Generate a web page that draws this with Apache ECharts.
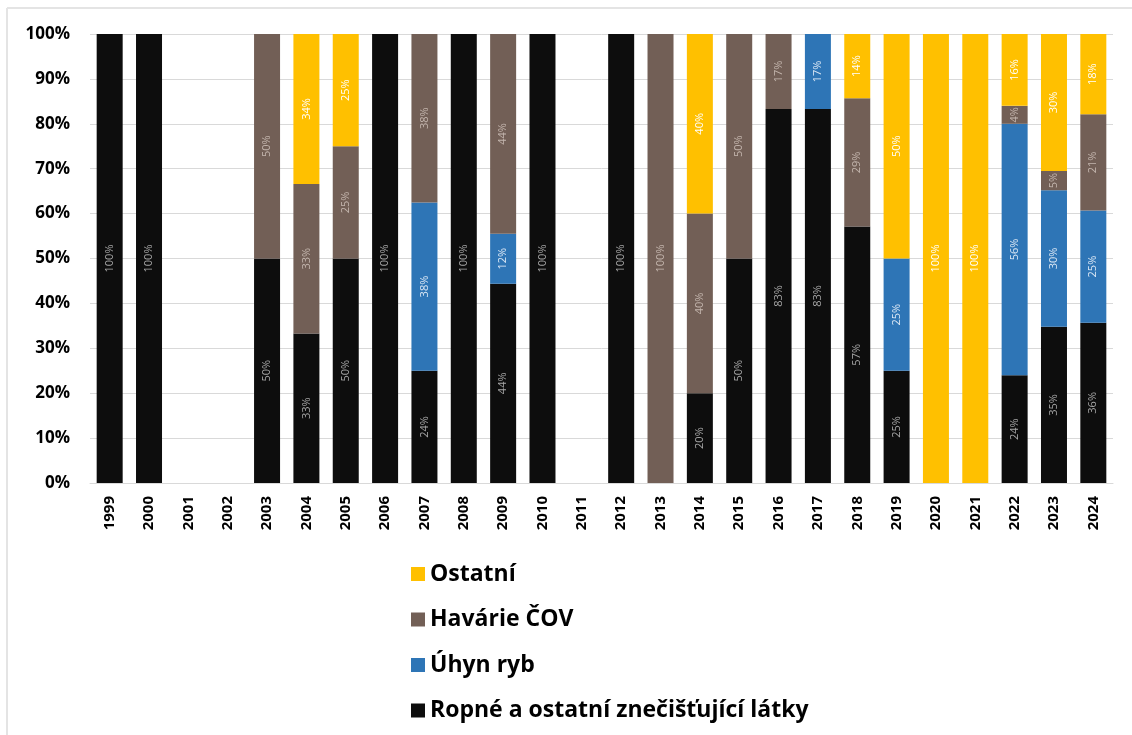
<!DOCTYPE html>
<html>
<head>
<meta charset="utf-8">
<script src="https://cdn.jsdelivr.net/npm/echarts@6/dist/echarts.min.js"></script>
<style>
html,body{margin:0;padding:0;background:#fff;}
#c{width:1132px;height:735px;}
</style>
</head>
<body>
<div id="c"></div>
<script>
const years = ['1999','2000','2001','2002','2003','2004','2005','2006','2007','2008','2009','2010','2011','2012','2013','2014','2015','2016','2017','2018','2019','2020','2021','2022','2023','2024'];
const yTicks = ['0%','10%','20%','30%','40%','50%','60%','70%','80%','90%','100%'];
const n = null;
// segment shares (%)
const ropne   = [100,100,n,n,50,33.3,50,100,25,100,44.4,100,n,100,n,20,50,83.3,83.3,57.1,25,n,n,24,34.8,35.7];
const uhyn    = [n,n,n,n,n,n,n,n,37.5,n,11.1,n,n,n,n,n,n,n,16.7,n,25,n,n,56,30.4,25];
const havarie = [n,n,n,n,50,33.3,25,n,37.5,n,44.5,n,n,n,100,40,50,16.7,n,28.6,n,n,n,4,4.3,21.4];
const ostatni = [n,n,n,n,n,33.4,25,n,n,n,n,n,n,n,n,40,n,n,n,14.3,50,100,100,16,30.5,17.9];
// data labels as printed in the chart
const ropneLbl   = [100,100,n,n,50,33,50,100,24,100,44,100,n,100,n,20,50,83,83,57,25,n,n,24,35,36];
const uhynLbl    = [n,n,n,n,n,n,n,n,38,n,12,n,n,n,n,n,n,n,17,n,25,n,n,56,30,25];
const havarieLbl = [n,n,n,n,50,33,25,n,38,n,44,n,n,n,100,40,50,17,n,29,n,n,n,4,5,21];
const ostatniLbl = [n,n,n,n,n,34,25,n,n,n,n,n,n,n,n,40,n,n,n,14,50,100,100,16,30,18];

const FONT = '"Open Sans", Lato, sans-serif';
function mk(name, data, lbl, color, lblColor){
  return {
    name: name, type: 'bar', stack: 'all', data: data, barWidth: 26,
    itemStyle: {color: color},
    label: {
      show: true, position: 'inside', rotate: 90,
      fontFamily: FONT, fontSize: 11, color: lblColor,
      formatter: p => lbl[p.dataIndex] == null ? '' : lbl[p.dataIndex] + '%'
    },
    emphasis: {disabled: true}
  };
}
const chart = echarts.init(document.getElementById('c'));
chart.setOption({
  animation: false,
  backgroundColor: '#fff',
  textStyle: {fontFamily: FONT},
  graphic: [
    {type:'line', shape:{x1:7,y1:8,x2:1132,y2:8}, style:{stroke:'#e4e4e4', lineWidth:2}, silent:true},
    {type:'line', shape:{x1:7,y1:8,x2:7,y2:735}, style:{stroke:'#e4e4e4', lineWidth:2}, silent:true}
  ],
  grid: {left: 90, right: 19, top: 34, bottom: 252, containLabel: false},
  legend: {
    orient: 'vertical', left: 406, top: 557,
    data: ['Ostatní','Havárie ČOV','Úhyn ryb','Ropné a ostatní znečišťující látky'],
    icon: 'rect', itemWidth: 14, itemHeight: 14, itemGap: 21.5,
    textStyle: {fontFamily: FONT, fontSize: 23, fontWeight: 'bold', color: '#000', lineHeight: 24},
    selectedMode: false
  },
  xAxis: {
    type: 'category', data: years,
    axisLine: {lineStyle: {color: '#d9d9d9', width: 1}},
    axisTick: {show: false},
    axisLabel: {rotate: 90, interval: 0, margin: 13, fontFamily: FONT, fontSize: 15, fontWeight: 'bold', color: '#000'}
  },
  yAxis: {
    type: 'value', min: 0, max: 100, interval: 10,
    axisLine: {show: false}, axisTick: {show: false},
    splitLine: {lineStyle: {color: '#d9d9d9', width: 1}},
    axisLabel: {margin: 20, fontFamily: FONT, fontSize: 17, fontWeight: 'bold', color: '#000',
      formatter: v => yTicks[Math.round(v/10)]}
  },
  series: [
    mk('Ropné a ostatní znečišťující látky', ropne, ropneLbl, '#0d0d0d', '#a6a6a6'),
    mk('Úhyn ryb', uhyn, uhynLbl, '#2e75b6', '#dce8f5'),
    mk('Havárie ČOV', havarie, havarieLbl, '#725f56', '#c4b6ae'),
    mk('Ostatní', ostatni, ostatniLbl, '#ffc000', '#ffffff')
  ]
});
</script>
</body>
</html>
